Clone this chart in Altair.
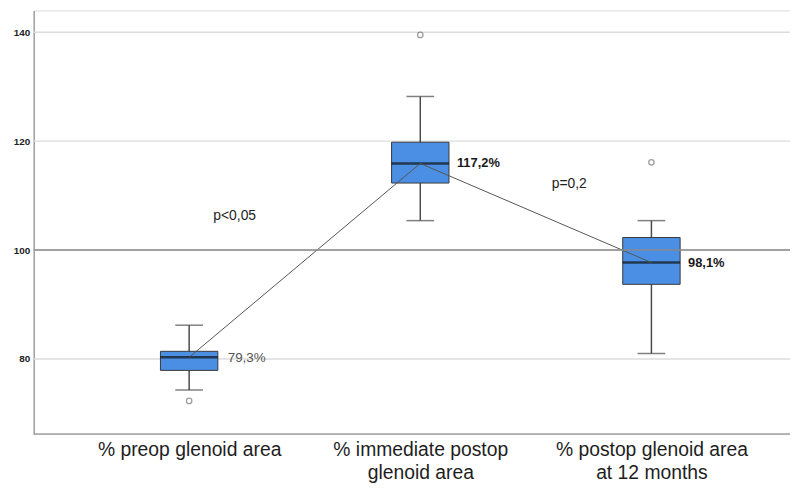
import altair as alt
import pandas as pd

categories = ["% preop glenoid area", "% immediate postop\nglenoid area", "% postop glenoid area\nat 12 months"]
q1 = [77.9, 112.3, 93.7]
q3 = [81.4, 119.8, 102.3]
median = [80.3, 115.9, 97.7]
whisk_lo = [74.3, 105.4, 81.0]
whisk_hi = [86.2, 128.2, 105.4]
outlier_cat = [0, 1, 2]
outlier_val = [72.3, 139.5, 116.1]
value_labels = ["79,3%", "117,2%", "98,1%"]
label_colors = ["#555555", "#1a1a1a", "#1a1a1a"]
p_texts = ["p<0,05", "p=0,2"]
p_y = [106.2, 112.1]
y_ticks = [80, 100, 120, 140]
ref_value = 100
Y_MIN, Y_MAX = 66.2, 144

df = pd.DataFrame({
    "cat": categories, "q1": q1, "q3": q3, "median": median,
    "lo": whisk_lo, "hi": whisk_hi, "label": value_labels,
    "lcolor": label_colors,
})
out_df = pd.DataFrame({"cat": [categories[i] for i in outlier_cat], "v": outlier_val})

FONT = "Liberation Sans"

xscale = alt.Scale(type="point", domain=categories, range=[157, 624], padding=0)
x = alt.X("cat:N", scale=xscale, sort=None, title=None,
          axis=alt.Axis(domain=False, ticks=False, labelAngle=0, labelFontSize=19.5,
                        labelFont=FONT, labelColor="#1e1e1e", labelPadding=7,
                        labelLineHeight=23, labelExpr="split(datum.label, '\\n')",
                        grid=False, labelLimit=300))
yscale = alt.Scale(domain=[Y_MIN, Y_MAX], nice=False, zero=False)
yaxis = alt.Axis(values=y_ticks, ticks=False, labelFontSize=10, labelFontWeight="bold",
                 labelFont=FONT, labelColor="#222222", labelPadding=4,
                 domainColor="#a0a0a0", domainWidth=1.5, grid=False,
                 title=None)

base = alt.Chart(df)

grid = alt.Chart(pd.DataFrame({"v": y_ticks})).mark_rule(color="#dcdcdc", strokeWidth=1.5).encode(
    y=alt.Y("v:Q", scale=yscale, axis=yaxis), x=alt.value(0), x2=alt.value(764))
whiskers = base.mark_rule(color="#4a4a4a", strokeWidth=1.5).encode(
    x=x, y=alt.Y("lo:Q", scale=yscale), y2="hi:Q")
caps_lo = base.mark_tick(color="#4a4a4a", size=28, thickness=1.5).encode(
    x=x, y=alt.Y("lo:Q", scale=yscale))
caps_hi = base.mark_tick(color="#4a4a4a", size=28, thickness=1.5).encode(
    x=x, y=alt.Y("hi:Q", scale=yscale))
boxes = base.mark_bar(size=58, color="#4a8fe3", stroke="#3a3a3a", strokeWidth=1).encode(
    x=x, y=alt.Y("q3:Q", scale=yscale), y2="q1:Q")
medians = base.mark_tick(color="#111111", size=58, thickness=2.5).encode(
    x=x, y=alt.Y("median:Q", scale=yscale))
conn = base.mark_line(color="#555555", strokeWidth=1).encode(
    x=x, y=alt.Y("median:Q", scale=yscale))
ref = alt.Chart(pd.DataFrame({"v": [ref_value]})).mark_rule(color="#8a8a8a", strokeWidth=1.5).encode(
    y=alt.Y("v:Q", scale=yscale), x=alt.value(0), x2=alt.value(764))
bottom = alt.Chart(pd.DataFrame({"v": [Y_MIN]})).mark_rule(color="#a0a0a0", strokeWidth=1.5).encode(
    y=alt.Y("v:Q", scale=yscale), x=alt.value(0), x2=alt.value(764))
outs = alt.Chart(out_df).mark_point(shape="circle", filled=False, size=30, color="#777777",
                                    strokeWidth=1.3).encode(
    x=x, y=alt.Y("v:Q", scale=yscale))
labels_normal = alt.Chart(df.iloc[[0]]).mark_text(align="left", baseline="middle", dx=39, dy=1,
                                                    fontSize=13.5, font=FONT).encode(
    x=x, y=alt.Y("median:Q", scale=yscale), text="label:N", color=alt.Color("lcolor:N", scale=None))
labels_bold = alt.Chart(df.iloc[[1, 2]]).mark_text(align="left", baseline="middle", dx=37,
                                                     fontSize=13, fontWeight="bold", font=FONT).encode(
    x=x, y=alt.Y("median:Q", scale=yscale), text="label:N", color=alt.Color("lcolor:N", scale=None))
p1 = alt.Chart(pd.DataFrame({"cat": [categories[0]], "v": [p_y[0]], "t": [p_texts[0]]})).mark_text(
    align="center", baseline="middle", dx=46, fontSize=14, font=FONT, color="#222222").encode(
    x=x, y=alt.Y("v:Q", scale=yscale), text="t:N")
p2 = alt.Chart(pd.DataFrame({"cat": [categories[2]], "v": [p_y[1]], "t": [p_texts[1]]})).mark_text(
    align="center", baseline="middle", dx=-83, fontSize=14, font=FONT, color="#222222").encode(
    x=x, y=alt.Y("v:Q", scale=yscale), text="t:N")

chart = alt.layer(grid, whiskers, caps_lo, caps_hi, boxes, medians, conn, ref, bottom, outs,
                  labels_normal, labels_bold, p1, p2).properties(
    width=764, height=428,
    autosize=alt.AutoSizeParams(type="none"),
    padding={"left": 26, "top": 0, "right": 0, "bottom": 52},
).configure_view(stroke=None).configure(background="white")

chart.save("out.html", embed_options={"renderer": "svg", "actions": False})
